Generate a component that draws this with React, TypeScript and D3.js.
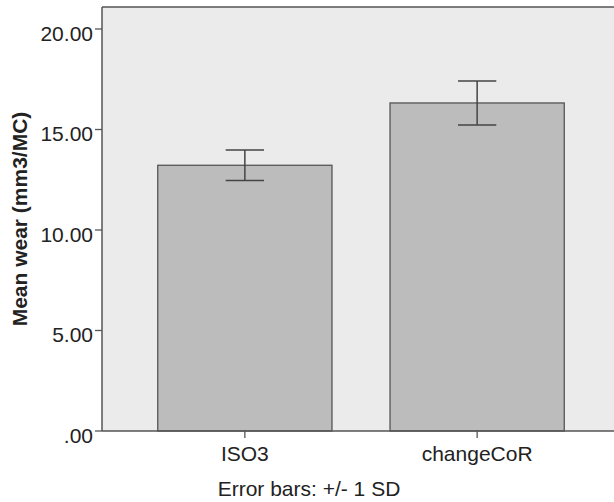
import * as d3 from "d3";

const categories = ["ISO3", "changeCoR"];
const means = [13.22, 16.32];
const sds = [0.76, 1.09];
const yTicks = [0, 5, 10, 15, 20];
const yTickLabels = [".00", "5.00", "10.00", "15.00", "20.00"];

const WIDTH = 614;
const HEIGHT = 502;
const PLOT = { left: 102, right: 620, top: 7, bottom: 431 };
const FONT = "'Liberation Sans', Arial, sans-serif";

export default function App() {
  const xScale = d3
    .scaleBand<string>()
    .domain(categories)
    .range([PLOT.left, PLOT.right])
    .paddingInner(0.25)
    .paddingOuter(0.24);

  const yScale = d3.scaleLinear().domain([0, 20]).range([PLOT.bottom, 29]);

  const bw = xScale.bandwidth();
  const capW = bw * 0.22;

  return (
    <svg
      width={WIDTH}
      height={HEIGHT}
      style={{ position: "absolute", left: 0, top: 0, background: "#fff" }}
    >
      {/* plot background */}
      <rect
        x={PLOT.left}
        y={PLOT.top}
        width={PLOT.right - PLOT.left}
        height={PLOT.bottom - PLOT.top}
        fill="#ebebeb"
      />

      {/* bars */}
      {categories.map((c, i) => (
        <rect
          key={c}
          x={xScale(c)}
          y={yScale(means[i])}
          width={bw}
          height={PLOT.bottom - yScale(means[i])}
          fill="#bcbcbc"
          stroke="#555"
          strokeWidth={1.3}
        />
      ))}

      {/* error bars */}
      {categories.map((c, i) => {
        const cx = (xScale(c) ?? 0) + bw / 2;
        const hi = yScale(means[i] + sds[i]);
        const lo = yScale(means[i] - sds[i]);
        return (
          <g key={c} stroke="#444" strokeWidth={1.5}>
            <line x1={cx} x2={cx} y1={hi} y2={lo} />
            <line x1={cx - capW / 2} x2={cx + capW / 2} y1={hi} y2={hi} />
            <line x1={cx - capW / 2} x2={cx + capW / 2} y1={lo} y2={lo} />
          </g>
        );
      })}

      {/* frame */}
      <g stroke="#555" strokeWidth={1.5} fill="none">
        <line x1={PLOT.left} x2={PLOT.right} y1={PLOT.top} y2={PLOT.top} />
        <line x1={PLOT.left} x2={PLOT.left} y1={PLOT.top} y2={PLOT.bottom} />
        <line x1={PLOT.left} x2={PLOT.right} y1={PLOT.bottom} y2={PLOT.bottom} />
      </g>

      {/* y axis */}
      {yTicks.map((t, i) => (
        <g key={t}>
          <line
            x1={PLOT.left - 7}
            x2={PLOT.left}
            y1={yScale(t)}
            y2={yScale(t)}
            stroke="#555"
            strokeWidth={1.3}
          />
          <text
            x={93}
            y={yScale(t) + 11.7}
            textAnchor="end"
            fontFamily={FONT}
            fontSize={21}
            fill="#222"
          >
            {yTickLabels[i]}
          </text>
        </g>
      ))}

      {/* x axis */}
      {categories.map((c) => {
        const cx = (xScale(c) ?? 0) + bw / 2;
        return (
          <g key={c}>
            <line
              x1={cx}
              x2={cx}
              y1={PLOT.bottom}
              y2={PLOT.bottom + 7}
              stroke="#555"
              strokeWidth={1.3}
            />
            <text
              x={cx}
              y={461}
              textAnchor="middle"
              fontFamily={FONT}
              fontSize={21}
              fill="#222"
            >
              {c}
            </text>
          </g>
        );
      })}

      <text
        x={309}
        y={496}
        textAnchor="middle"
        fontFamily={FONT}
        fontSize={21}
        fill="#222"
      >
        Error bars: +/- 1 SD
      </text>

      <text
        transform={`translate(27, ${(PLOT.top + PLOT.bottom) / 2}) rotate(-90)`}
        textAnchor="middle"
        fontFamily={FONT}
        fontSize={21}
        fontWeight="bold"
        fill="#222"
      >
        Mean wear (mm3/MC)
      </text>
    </svg>
  );
}
